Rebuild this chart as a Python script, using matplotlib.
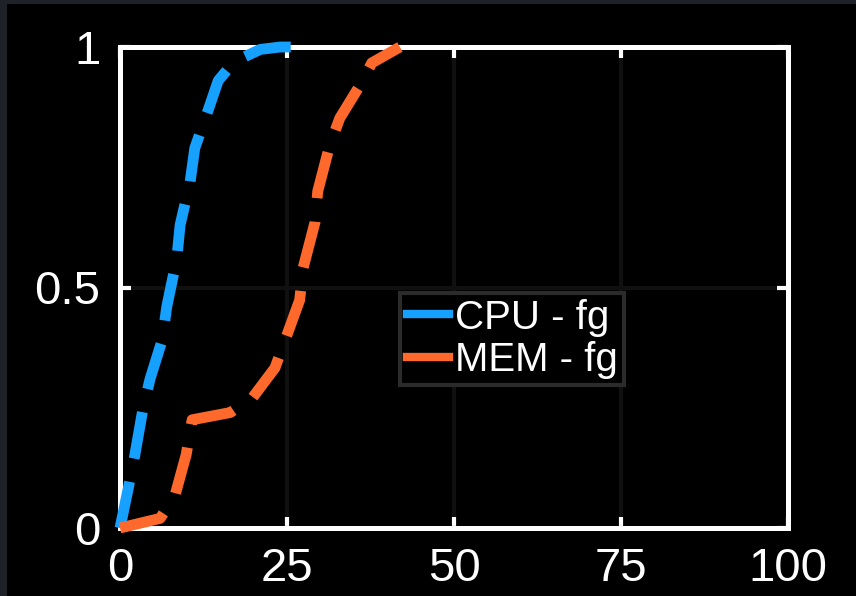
import matplotlib
matplotlib.use('Agg')
import matplotlib.pyplot as plt
from matplotlib.lines import Line2D
from matplotlib.patches import Rectangle

# CDF curves
cpu_x = [0, 1.2, 2.2, 3.4, 4.5, 6.3, 7.0, 8.5, 9.0, 10.5, 11.2, 13.3, 14.7, 16.5, 18.7, 21, 24, 28.5]
cpu_y = [0, 0.08, 0.15, 0.245, 0.31, 0.39, 0.46, 0.56, 0.63, 0.72, 0.79, 0.873, 0.93, 0.96, 0.98, 0.995, 1.0, 1.0]

mem_x = [0, 6, 8.2, 9.9, 10.8, 16.5, 19.9, 23.2, 24.7, 26.9, 27.4, 29.2, 29.6, 31.4, 32.9, 35.9, 37.7, 41.9]
mem_y = [0, 0.02, 0.066, 0.152, 0.225, 0.24, 0.272, 0.333, 0.39, 0.474, 0.54, 0.636, 0.70, 0.796,
         0.852, 0.92, 0.967, 1.0]

labels = ['CPU - fg', 'MEM - fg']
colors = ['#16a0ff', '#ff6a2c']

x_ticks = [0, 25, 50, 75, 100]
y_ticks = [0, 0.5, 1]
y_ticklabels = ['0', '0.5', '1']

plt.rcParams['font.family'] = ['Liberation Sans', 'DejaVu Sans']
plt.rcParams['lines.scale_dashes'] = False

fig = plt.figure(figsize=(8.56, 5.96), dpi=100)
fig.patch.set_facecolor('black')
# thin dark frame on the left and top edges
fig.patches.append(Rectangle((0, 0), 7 / 856, 1, transform=fig.transFigure,
                             facecolor='#1e2127', edgecolor='none'))
fig.patches.append(Rectangle((0, 1 - 4 / 596), 1, 4 / 596, transform=fig.transFigure,
                             facecolor='#1e2127', edgecolor='none'))

ax = fig.add_axes([120 / 856, 68 / 596, 668 / 856, 481 / 596])
ax.set_facecolor('black')

ax.plot(cpu_x, cpu_y, color=colors[0], lw=7.8, dashes=(34, 17), solid_capstyle='butt',
        dash_capstyle='butt', zorder=3, clip_on=False)
ax.plot(mem_x, mem_y, color=colors[1], lw=7.8, dashes=(34, 17), solid_capstyle='butt',
        dash_capstyle='butt', zorder=3, clip_on=False)

ax.set_xlim(0, 100)
ax.set_ylim(0, 1)
ax.set_xticks(x_ticks)
ax.set_yticks(y_ticks)
ax.set_yticklabels(y_ticklabels)

ax.grid(True, color='#101010', lw=3)
ax.set_axisbelow(True)

for s in ax.spines.values():
    s.set_color('white')
    s.set_linewidth(3.6)

ax.tick_params(direction='in', length=8, width=3, color='white', labelcolor='white',
               labelsize=34, top=True, right=True)
ax.tick_params(axis='x', pad=14)
ax.tick_params(axis='y', pad=14)

handles = [Line2D([], [], color=c, lw=6) for c in colors]
leg = ax.legend(handles, labels, loc='center', bbox_to_anchor=(0.587, 0.393),
                fontsize=29, frameon=True, fancybox=False, framealpha=1,
                facecolor='black', edgecolor='#2b2b2b', handlelength=1.05,
                handletextpad=0.15, borderpad=0.15, labelspacing=0.12, borderaxespad=0)
leg.get_frame().set_linewidth(3)
for t in leg.get_texts():
    t.set_color('white')

fig.savefig('out.png', dpi=100, facecolor=fig.get_facecolor())
